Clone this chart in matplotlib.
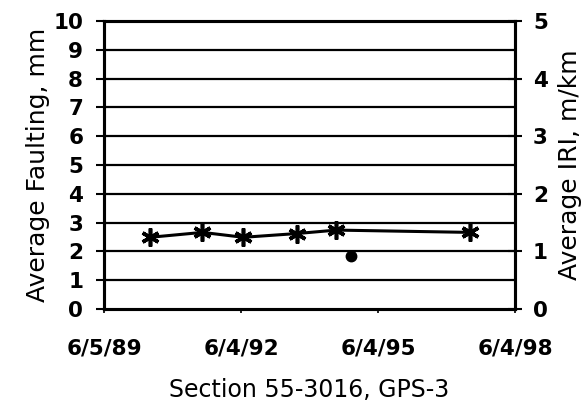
import datetime as dt

import matplotlib
matplotlib.use("Agg")
import matplotlib.pyplot as plt

# IRI survey dates and values (right axis, m/km)
iri_dates = [
    dt.date(1990, 6, 9),
    dt.date(1991, 8, 1),
    dt.date(1992, 6, 23),
    dt.date(1993, 8, 25),
    dt.date(1994, 7, 7),
    dt.date(1997, 6, 8),
]
iri_values = [1.245, 1.33, 1.245, 1.31, 1.37, 1.33]

# faulting survey (left axis, mm)
fault_dates = [dt.date(1994, 11, 4)]
fault_values = [1.84]

tick_dates = [dt.date(1989, 6, 5), dt.date(1992, 6, 4),
              dt.date(1995, 6, 4), dt.date(1998, 6, 4)]
tick_labels = ["6/5/89", "6/4/92", "6/4/95", "6/4/98"]

plt.rcParams["font.family"] = ["DejaVu Sans"]

fig = plt.figure(figsize=(5.88, 4.08), dpi=100)
ax = fig.add_axes([104 / 588, 1 - 309 / 408, 411 / 588, 288 / 408])
ax2 = ax.twinx()

ax.set_xlim(tick_dates[0], tick_dates[-1])
ax.set_ylim(0, 10)
ax2.set_ylim(0, 5)

ax.set_yticks(range(0, 11))
ax2.set_yticks(range(0, 6))
ax.set_xticks(tick_dates)
ax.set_xticklabels(tick_labels)

for y in range(1, 10):
    ax.axhline(y, color="black", lw=1.6, zorder=1)

ax.plot(fault_dates, fault_values, ls="none", marker="o", ms=7.5,
        color="black", zorder=3)
ax2.plot(iri_dates, iri_values, color="black", lw=2.2,
         marker=(6, 2, 0), ms=13, mew=2.6, zorder=3)

for a in (ax, ax2):
    for s in a.spines.values():
        s.set_linewidth(2.2)

for lab in ax.get_yticklabels() + ax2.get_yticklabels() + ax.get_xticklabels():
    lab.set_fontsize(15.5)
    lab.set_fontweight("bold")

ax.tick_params(axis="y", direction="out", length=6, width=1.5, pad=9)
ax2.tick_params(axis="y", direction="inout", length=10, width=1.5, pad=8)
ax.tick_params(axis="x", direction="out", length=3, width=1.2, pad=18)

ax.set_ylabel("Average Faulting, mm", fontsize=18)
ax.yaxis.set_label_coords(-54 / 411, 0.5)
ax2.set_ylabel("Average IRI, m/km", fontsize=18)
ax2.yaxis.set_label_coords(1 + 43 / 411, 0.5)
ax.set_xlabel("Section 55-3016, GPS-3", fontsize=17)
ax.xaxis.set_label_coords(0.5, -69 / 288)

fig.savefig("out.png", dpi=100)
